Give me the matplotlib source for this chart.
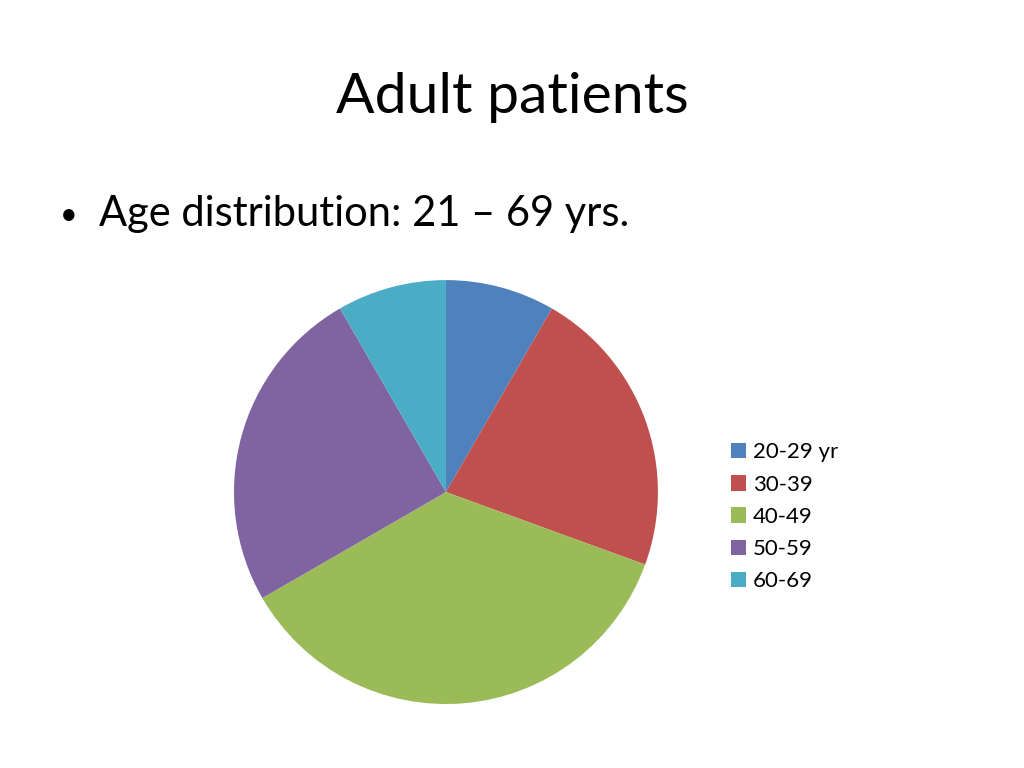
import matplotlib.pyplot as plt

labels = ['20-29 yr', '30-39', '40-49', '50-59', '60-69']
counts = [3, 8, 13, 9, 3]
colors = ['#4f81bd', '#c0504d', '#9bbb59', '#8064a2', '#4bacc6']

plt.rcParams['font.family'] = 'Lato'

fig = plt.figure(figsize=(10.24, 7.68), dpi=100, facecolor='white')
ax = fig.add_axes([0.2285, 0.0833, 0.414, 0.552])

wedges, _ = ax.pie(counts, colors=colors, startangle=90, counterclock=False,
                   wedgeprops=dict(linewidth=0))
ax.set_xlim(-1, 1)
ax.set_ylim(-1, 1)
ax.set_aspect('equal')

fig.text(0.5, 0.873, 'Adult patients', ha='center', va='center', fontsize=41)
fig.text(0.058, 0.72, '\u2022', ha='left', va='center', fontsize=22)
fig.text(0.097, 0.722, 'Age distribution: 21 \u2013 69 yrs.', ha='left', va='center',
         fontsize=30)

fig.legend(wedges, labels, loc='center left', bbox_to_anchor=(0.694, 0.327),
           frameon=False, fontsize=16, handlelength=0.7, handleheight=0.7,
           handletextpad=0.3, labelspacing=0.55)

fig.savefig('out.png', dpi=100, facecolor='white')
